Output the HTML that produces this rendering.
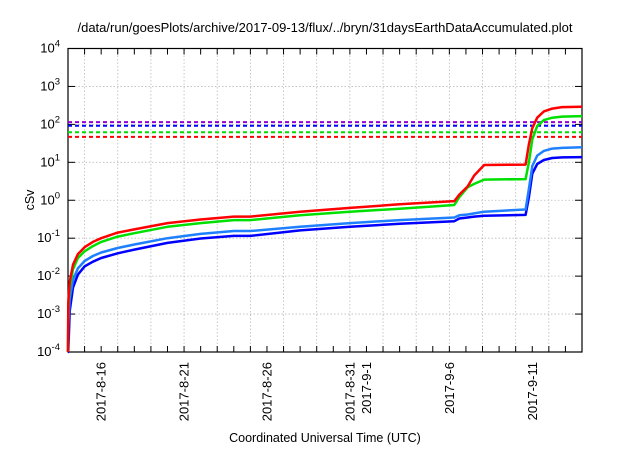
<!DOCTYPE html>
<html><head><meta charset="utf-8"><style>
body{margin:0;background:#fff;width:640px;height:448px;overflow:hidden}
text{font-family:"Liberation Sans",sans-serif;fill:#000}
</style></head><body>
<svg id="chart" width="640" height="448" xmlns="http://www.w3.org/2000/svg">
<text x="325" y="32" font-size="13" text-anchor="middle">/data/run/goesPlots/archive/2017-09-13/flux/../bryn/31daysEarthDataAccumulated.plot</text>
<text transform="translate(34,200) rotate(-90)" font-size="12.5" text-anchor="middle">cSv</text>
<text x="325" y="442" font-size="12.5" text-anchor="middle">Coordinated Universal Time (UTC)</text>
<g id="grid"></g><g id="axes"></g><g id="series"></g>
</svg>
<script>
const dayOffsets=[0.02,0.1,0.3,0.6,1,1.5,2,3,4,6,8,10,11,14,17,20,23.3,23.6,24.1,24.5,25.1,27.6,27.8,28.0,28.3,28.7,29.2,29.8,31];
const redValues=[0.002,0.007,0.02,0.038,0.058,0.08,0.1,0.14,0.17,0.25,0.31,0.37,0.37,0.5,0.63,0.78,0.95,1.4,2.3,4.5,8.5,8.7,30,80,150,220,260,285,290];
const greenValues=[0.0015,0.005,0.015,0.03,0.045,0.062,0.08,0.11,0.135,0.2,0.25,0.3,0.3,0.4,0.5,0.6,0.75,1.2,2.2,2.7,3.5,3.6,10,40,90,130,150,160,165];
const lightBlueValues=[0.0005,0.0025,0.008,0.016,0.025,0.034,0.042,0.055,0.068,0.1,0.13,0.155,0.155,0.2,0.25,0.3,0.35,0.4,0.42,0.45,0.5,0.57,2,8,15,20,23,24,25];
const darkBlueValues=[0.0001,0.0012,0.005,0.011,0.018,0.024,0.03,0.04,0.05,0.075,0.098,0.115,0.115,0.16,0.2,0.24,0.28,0.33,0.35,0.37,0.39,0.41,1.2,5,9,11.5,13,13.5,13.7];
const thresholdValues=[115,92,62,47];
const yTickExponents=[-4,-3,-2,-1,0,1,2,3,4];
const xTickLabels=["2017-8-16","2017-8-21","2017-8-26","2017-8-31","2017-9-1","2017-9-6","2017-9-11"];
const xTickDays=[2,7,12,17,18,23,28];
const totalDays=31;

const L=68,R=582,T=48.5,B=352;
const NS="http://www.w3.org/2000/svg";
const xs=d=>L+(R-L)*d/totalDays;
const ys=v=>B-(B-T)*(Math.log10(v)+4)/8;
function mk(tag,attrs,parent){const e=document.createElementNS(NS,tag);for(const k in attrs)e.setAttribute(k,attrs[k]);parent.appendChild(e);return e;}
const grid=document.getElementById('grid'),axes=document.getElementById('axes'),series=document.getElementById('series');

for(let d=1;d<totalDays;d+=2){
 const g=mk('line',{x1:xs(d),x2:xs(d),y1:T,y2:B,stroke:'#bbb','stroke-width':0.8,'stroke-dasharray':'1.5,2'},grid);
 
 
}
yTickExponents.forEach(e=>{
 const y=ys(Math.pow(10,e));
 if(e>-4&&e<4){const g=mk('line',{x1:L,x2:R,y1:y,y2:y,stroke:'#bbb','stroke-width':0.8,'stroke-dasharray':'1.5,2'},grid);
 
 }
 mk('line',{x1:L,x2:L+7,y1:y,y2:y,stroke:'#000'},axes);
 mk('line',{x1:R,x2:R-7,y1:y,y2:y,stroke:'#000'},axes);
 const t=mk('text',{x:L-8,y:y+4,'font-size':13,'text-anchor':'end'},axes);
 
 
 t.innerHTML='10<tspan dy="-6" font-size="9.5">'+e+'</tspan>';
});
for(let d=1;d<totalDays;d++){
 mk('line',{x1:xs(d),x2:xs(d),y1:B,y2:B-6,stroke:'#000'},axes);
 mk('line',{x1:xs(d),x2:xs(d),y1:T,y2:T+6,stroke:'#000'},axes);
}
xTickLabels.forEach((lab,i)=>{
 const x=xs(xTickDays[i])+4.5;
 const t=mk('text',{transform:`translate(${x},362) rotate(-90)`,'font-size':13,'text-anchor':'end'},axes);
 
 
 t.textContent=lab;
});
const frame=mk('rect',{x:L,y:T,width:R-L,height:B-T,fill:'none',stroke:'#000','stroke-width':1.2},axes);



const thrColors=['#9400d3','#0000ff','#00dd00','#ff0000'];
thresholdValues.forEach((v,i)=>{
 const l=mk('line',{x1:L,x2:R,y1:ys(v),y2:ys(v),stroke:thrColors[i],'stroke-width':2,'stroke-dasharray':'4,3'},series);
 
 
});
const sets=[[darkBlueValues,'#0000ff','dark-blue-series'],[lightBlueValues,'#1e80ff','light-blue-series'],[greenValues,'#00e000','green-series'],[redValues,'#ff0000','red-series']];
sets.forEach(([vals,c,name])=>{
 const pts=vals.map((v,i)=>xs(dayOffsets[i]).toFixed(1)+','+ys(v).toFixed(1));
 pts.unshift(xs(0).toFixed(1)+','+B);
 const p=mk('polyline',{points:pts.join(' '),fill:'none',stroke:c,'stroke-width':2.5,'stroke-linejoin':'round'},series);
 
 
});
</script>
</body></html>
